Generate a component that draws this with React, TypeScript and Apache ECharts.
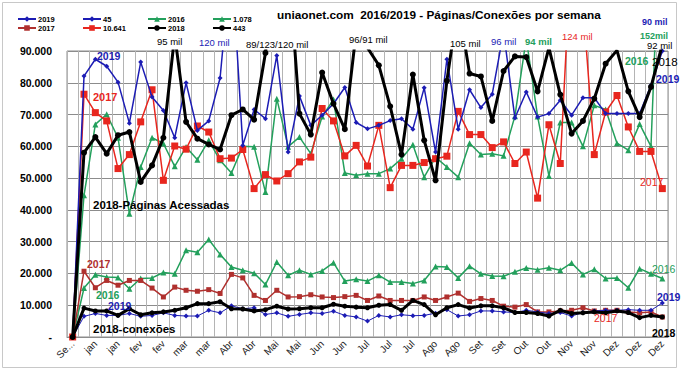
import React, { useEffect, useRef } from "react";
import * as echarts from "echarts";

// Week categories (first is the start point)
const categories = [
  "Se...", "jan", "jan", "jan", "jan", "fev", "fev", "fev", "fev", "mar", "mar", "mar", "mar",
  "Abr", "Abr", "Abr", "Abr", "Mai", "Mai", "Mai", "Mai", "Jun", "Jun", "Jun", "Jun",
  "Jul", "Jul", "Jul", "Jul", "Jul", "Jul", "Ago", "Ago", "Ago", "Ago", "Set", "Set", "Set", "Set",
  "Out", "Out", "Out", "Out", "Nov", "Nov", "Nov", "Nov", "Dez", "Dez", "Dez", "Dez", "Dez", "Dez",
];

const yTickLabels = ["-", "10.000", "20.000", "30.000", "40.000", "50.000", "60.000", "70.000", "80.000", "90.000"];

// Values in thousands
// Páginas acessadas
const pages2019 = [0, 82.1, 87.4, 85.2, 80.2, 67.3, 86.5, 75.5, 71.3, 62.7, 80.0, 65.0, 68.0, 81.5, 120, 60.3, 71.6, 68.7, 88.6, 58.2, 75.8, 66.6, 69.8, 73.4, 78.5, 67.5, 65.5, 66.6, 68.1, 68.7, 65.4, 78.4, 58.2, 87.4, 65.4, 77.8, 72.2, 76.4, 96, 68.9, 77.1, 69.2, 70.3, 74.5, 69.8, 75.3, 75.3, 70.3, 70.3, 70.3, 70.3, 79.2, 90];
const pages2017 = [0, 76.4, 70.6, 68.0, 53.0, 57.4, 67.7, 77.8, 49.3, 60.1, 59.1, 66.4, 64.5, 56.1, 56.3, 59.0, 46.7, 51.1, 49.1, 51.4, 55.1, 56.6, 71.9, 68.0, 57.0, 60.3, 53.8, 66.6, 47.0, 54.0, 54.0, 54.9, 56.1, 56.9, 71.0, 63.7, 63.7, 59.6, 61.4, 54.6, 58.2, 43.7, 66.8, 54.6, 124, 105, 57.4, 70.8, 76.0, 66.1, 58.4, 58.4, 46.7];
const pages2016 = [0, 44.6, 66.9, 70.1, 62.7, 38.8, 53.5, 62.7, 60.9, 53.7, 59.8, 55.8, 61.9, 55.6, 51.6, 60.0, 59.9, 45.6, 75.0, 59.9, 62.9, 57.7, 69.4, 74.7, 51.6, 50.9, 51.4, 51.4, 53.0, 56.1, 60.5, 50.3, 56.6, 53.5, 50.3, 61.0, 57.4, 57.7, 57.0, 69.5, 94, 69.4, 50.7, 67.5, 67.5, 60.0, 72.9, 71.6, 61.0, 58.8, 67.0, 60.0, 152];
const pages2018 = [0, 58.0, 62.9, 57.7, 63.5, 64.5, 48.8, 54.0, 62.7, 95, 67.7, 62.4, 60.6, 59.0, 69.8, 71.6, 68.4, 89.4, 123, 120, 70.3, 63.7, 83.2, 73.4, 65.4, 96, 91, 85.5, 72.6, 57.4, 82.6, 61.9, 49.3, 80.6, 105, 82.9, 82.0, 68.0, 83.7, 88.3, 88.1, 77.3, 91, 76.3, 64.0, 68.0, 75.0, 86.0, 90.2, 77.3, 69.2, 78.7, 92];

// Conexões
const conn2016 = [0, 15.4, 19.6, 18.9, 18.7, 15.2, 18.4, 18.6, 20.3, 19.9, 27.3, 26.7, 30.7, 26.0, 22.0, 21.0, 20.1, 16.5, 23.6, 19.4, 21.0, 19.7, 20.8, 23.4, 17.6, 18.2, 17.6, 19.4, 17.3, 17.3, 16.8, 17.8, 22.2, 22.0, 18.6, 22.3, 19.9, 19.2, 19.1, 20.5, 21.7, 21.2, 21.8, 21.0, 23.3, 19.7, 21.3, 18.4, 18.6, 15.5, 21.5, 19.9, 18.4];
const conn2017 = [0, 20.7, 15.5, 17.8, 16.3, 17.8, 17.8, 15.4, 12.6, 15.7, 14.7, 14.4, 14.9, 13.7, 19.7, 18.6, 13.1, 11.5, 14.7, 12.6, 12.7, 13.3, 12.6, 12.4, 12.7, 13.1, 11.5, 12.9, 11.5, 11.5, 11.5, 12.6, 11.5, 12.6, 13.8, 11.2, 12.1, 11.5, 9.7, 9.4, 10.2, 7.9, 7.9, 8.2, 8.4, 9.2, 8.2, 8.4, 8.4, 7.9, 7.6, 7.9, 6.3];
const conn2019 = [0, 6.5, 7.4, 6.8, 6.8, 7.4, 6.5, 6.8, 7.6, 6.8, 6.6, 6.6, 8.4, 7.6, 9.8, 8.9, 9.2, 7.1, 7.6, 6.5, 7.1, 7.6, 7.4, 8.1, 6.8, 6.3, 5.0, 6.8, 6.3, 7.0, 6.7, 6.8, 7.5, 8.6, 6.6, 7.0, 8.2, 8.2, 7.9, 7.7, 8.4, 7.9, 7.4, 7.7, 6.6, 7.7, 8.2, 8.4, 8.4, 8.6, 8.4, 8.4, 10.7];
const conn2018 = [0, 9.1, 8.2, 8.2, 6.8, 8.9, 7.0, 7.6, 7.9, 8.4, 9.2, 10.5, 10.5, 11.1, 8.9, 8.8, 8.2, 8.6, 9.7, 8.8, 8.9, 9.2, 9.2, 10.3, 9.7, 9.4, 9.2, 10.0, 10.2, 8.4, 11.5, 10.2, 7.0, 9.2, 10.2, 9.1, 9.8, 9.8, 9.2, 7.7, 7.7, 7.4, 6.6, 8.4, 7.4, 7.6, 7.9, 7.6, 8.2, 7.7, 6.1, 6.8, 6.3];

const BLUE = "#1c1cb4";
const GREEN = "#23a05c";
const RED = "#e8261e";
const DARKRED = "#b0302e";
const BLACK = "#000000";
const FONT = "'Liberation Sans', Arial, sans-serif";

function line(name: string, data: number[], color: string, width: number, symbol: string, size: number, z: number) {
  return {
    name,
    type: "line",
    data,
    symbol,
    symbolSize: size,
    showSymbol: true,
    clip: true,
    z,
    itemStyle: { color, borderWidth: 0 },
    lineStyle: { color, width },
  };
}

function txt(x: number, y: number, text: string, color: string, size: number, bold: boolean) {
  return {
    type: "text",
    x,
    y,
    z: 50,
    style: {
      text,
      fill: color,
      font: `${bold ? "bold " : ""}${size}px ${FONT}`,
      textAlign: "left",
      textVerticalAlign: "middle",
    },
  };
}

function legendCol(left: number, names: string[]) {
  return {
    data: names,
    left,
    top: 14.5,
    orient: "vertical",
    itemGap: 0,
    itemWidth: 18,
    itemHeight: 7,
    padding: 0,
    selectedMode: false,
    textStyle: { fontSize: 7.5, fontWeight: "bold", color: "#000", fontFamily: FONT, lineHeight: 9, padding: [0, 0, 0, -3] },
  };
}

export default function App() {
  const ref = useRef<HTMLDivElement>(null);
  useEffect(() => {
    const chart = echarts.init(ref.current!, null, { renderer: "svg" });
    const option: any = {
      animation: false,
      backgroundColor: "#ffffff",
      textStyle: { fontFamily: FONT },
      title: {
        text: "uniaonet.com  2016/2019 - Páginas/Conexões por semana",
        left: 277,
        top: 9,
        padding: 0,
        textStyle: { fontSize: 11.8, fontWeight: "bold", color: "#000", fontFamily: FONT },
      },
      legend: [
        legendCol(17, ["2019", "2017"]),
        legendCol(82, ["45", "10.641"]),
        legendCol(147, ["2016", "2018"]),
        legendCol(212, ["1.078", "443"]),
      ],
      grid: {
        left: 67,
        top: 51,
        width: 601,
        height: 286,
        show: true,
        borderColor: "#8c8c8c",
        borderWidth: 1,
        containLabel: false,
      },
      xAxis: {
        type: "category",
        data: categories,
        boundaryGap: true,
        axisLine: { show: true, lineStyle: { color: "#8c8c8c" } },
        axisTick: { show: false },
        axisLabel: { interval: 1, rotate: 45, fontSize: 10, color: "#222", margin: 5, fontFamily: FONT },
        splitLine: { show: true, interval: 0, lineStyle: { color: "#b4b4b4", width: 1 } },
      },
      yAxis: {
        type: "value",
        min: 0,
        max: 90,
        interval: 10,
        axisLine: { show: false },
        axisTick: { show: false },
        axisLabel: {
          formatter: (v: number) => yTickLabels[Math.round(v / 10)],
          fontSize: 10.5,
          fontWeight: "bold",
          color: "#000",
          margin: 15,
          fontFamily: FONT,
        },
        splitLine: { show: true, lineStyle: { color: "#8c8c8c", width: 1 } },
      },
      series: [
        line("2016", conn2016, GREEN, 1.5, "triangle", 6, 2),
        line("1.078", pages2016, GREEN, 1.5, "triangle", 6, 2),
        line("2017", conn2017, DARKRED, 1.5, "rect", 5, 3),
        line("10.641", pages2017, RED, 1.5, "rect", 7, 3),
        line("2019", conn2019, BLUE, 1, "diamond", 5, 4),
        line("45", pages2019, BLUE, 1.5, "diamond", 5, 4),
        line("2018", conn2018, BLACK, 3, "circle", 5, 5),
        line("443", pages2018, BLACK, 3, "circle", 6, 5),
      ],
      graphic: [
        { type: "rect", shape: { x: 2.5, y: 2.5, width: 674, height: 365 }, style: { fill: "none", stroke: "#c8c8c8", lineWidth: 1 }, z: 0, silent: true },
        // value annotations for peaks above the axis
        txt(157, 41, "95 mil", BLACK, 9.5, false),
        txt(199, 42, "120 mil", BLUE, 9.5, false),
        txt(246, 44, "89/123/120 mil", BLACK, 9.5, false),
        txt(349, 39, "96/91 mil", BLACK, 9.5, false),
        txt(450, 43, "105 mil", BLACK, 9.5, false),
        txt(491, 41, "96 mil", BLUE, 9.5, false),
        txt(525, 41, "94 mil", GREEN, 9.5, true),
        txt(562, 36, "124 mil", RED, 9.5, false),
        txt(642, 22, "90 mil", BLUE, 9, true),
        txt(640, 36, "152mil", GREEN, 9, true),
        txt(647, 45, "92 mil", BLACK, 9.5, false),
        // series labels
        txt(97, 56, "2019", BLUE, 10.5, true),
        txt(93, 97, "2017", RED, 11, true),
        txt(93, 204.5, "2018-Páginas Acessadas", BLACK, 11.5, true),
        txt(87, 264, "2017", DARKRED, 10.5, true),
        txt(96, 295, "2016", GREEN, 10.5, true),
        txt(108, 306, "2019", BLUE, 10.5, true),
        txt(93, 329, "2018-conexões", BLACK, 11.5, true),
        txt(625, 61, "2016", GREEN, 10.5, true),
        txt(652, 62, "2018", BLACK, 11.5, false),
        txt(656, 79, "2019", BLUE, 10.5, true),
        txt(640, 182, "2017", RED, 10.5, false),
        txt(652, 269, "2016", GREEN, 10.5, false),
        txt(657, 297, "2019", BLUE, 10.5, true),
        txt(594, 318, "2017", RED, 10.5, false),
        txt(652, 333, "2018", BLACK, 10.5, true),
      ],
    };
    chart.setOption(option);
    return () => chart.dispose();
  }, []);
  return (
    <div
      ref={ref}
      style={{ position: "fixed", left: 0, top: 0, width: 687, height: 370, background: "#fff" }}
    />
  );
}
